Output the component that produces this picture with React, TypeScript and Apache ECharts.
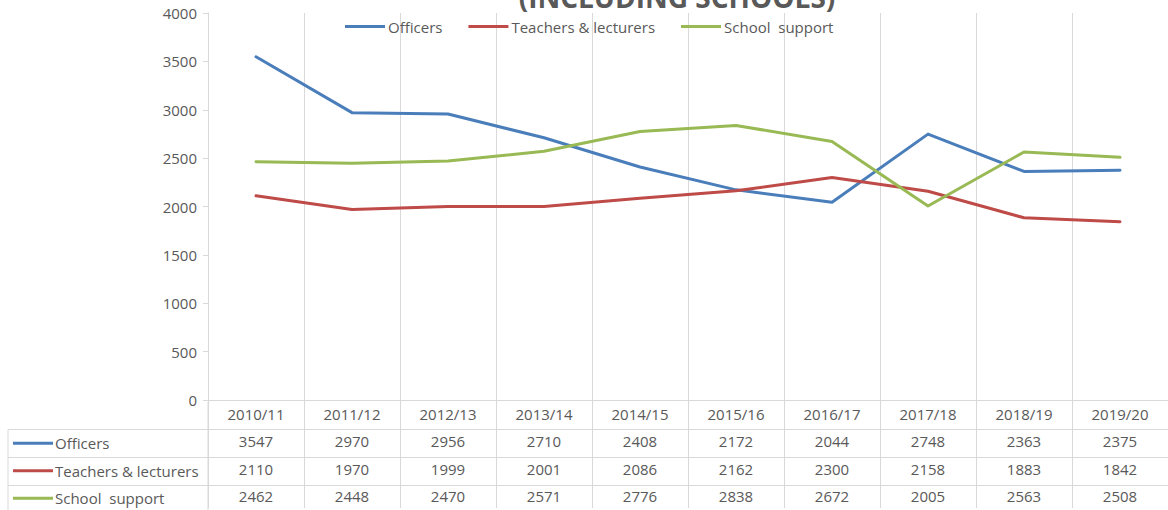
import React, { useEffect, useRef } from "react";
import * as echarts from "echarts";

const categories = ["2010/11", "2011/12", "2012/13", "2013/14", "2014/15", "2015/16", "2016/17", "2017/18", "2018/19", "2019/20"];
const officers = [3547, 2970, 2956, 2710, 2408, 2172, 2044, 2748, 2363, 2375];
const teachers = [2110, 1970, 1999, 2001, 2086, 2162, 2300, 2158, 1883, 1842];
const schoolSupport = [2462, 2448, 2470, 2571, 2776, 2838, 2672, 2005, 2563, 2508];
const seriesNames = ["Officers", "Teachers & lecturers", "School  support"];
const seriesColors = ["#4A7EBB", "#BE4B48", "#98B954"];
const yTicks = { min: 0, max: 4000, interval: 500 };
const titleText = "(INCLUDING SCHOOLS)";

const FONT = "'Open Sans', 'Noto Sans', sans-serif";
const TEXT = "#595959";
const GRID = "#d9d9d9";

export default function App() {
  const ref = useRef<HTMLDivElement>(null);
  useEffect(() => {
    if (!ref.current) return;
    const chart = echarts.init(ref.current, undefined, { renderer: "svg" });
    const allSeries = [officers, teachers, schoolSupport];
    const W = 1168;
    const gridBottomY = 402;
    const rowH = 27.5;
    const graphics: any[] = [
      {
        type: "text",
        x: 677,
        y: -3,
        style: { text: titleText, font: `bold 28px ${FONT}`, fill: TEXT, align: "center", verticalAlign: "middle" },
      },
      { type: "line", shape: { x1: 8, y1: 429.5, x2: 8, y2: 510 }, style: { stroke: GRID, lineWidth: 1 } },
      { type: "line", shape: { x1: 208, y1: 402, x2: 208, y2: 510 }, style: { stroke: GRID, lineWidth: 1 } },
    ];
    [429.5, 457.5, 485.5].forEach((y) => {
      graphics.push({ type: "line", shape: { x1: 8, y1: y, x2: W, y2: y }, style: { stroke: GRID, lineWidth: 1 } });
    });
    seriesNames.forEach((name, i) => {
      const cy = gridBottomY + rowH * (i + 1) + rowH / 2;
      graphics.push({
        type: "line",
        shape: { x1: 13, y1: cy, x2: 53, y2: cy },
        style: { stroke: seriesColors[i], lineWidth: 3 },
      });
      graphics.push({
        type: "text",
        x: 55,
        y: cy,
        style: { text: name, font: `15px ${FONT}`, fill: TEXT, align: "left", verticalAlign: "middle" },
      });
    });

    chart.setOption({
      animation: false,
      backgroundColor: "#ffffff",
      grid: { left: 208, right: 0, top: 13, bottom: 108 },
      legend: {
        left: 340,
        top: 14,
        itemWidth: 40,
        itemHeight: 3,
        itemGap: 26,
        icon: "rect",
        textStyle: { color: TEXT, fontFamily: FONT, fontSize: 15, padding: [0, 0, 0, -2] },
        data: seriesNames,
      },
      xAxis: {
        type: "category",
        data: categories,
        boundaryGap: true,
        axisLine: { show: true, lineStyle: { color: GRID, width: 1 } },
        axisTick: { show: true, length: 108, lineStyle: { color: GRID, width: 1 } },
        splitLine: { show: true, lineStyle: { color: GRID, width: 1 } },
        axisLabel: {
          margin: 0,
          interval: 0,
          color: TEXT,
          fontFamily: FONT,
          fontSize: 15,
          lineHeight: rowH,
          formatter: (v: string, idx: number) =>
            [v, ...allSeries.map((s) => String(s[idx]))].join("\n"),
        },
      },
      yAxis: {
        type: "value",
        min: yTicks.min,
        max: yTicks.max,
        interval: yTicks.interval,
        axisLine: { show: true, lineStyle: { color: GRID, width: 1 } },
        axisTick: { show: true, length: 5, lineStyle: { color: GRID, width: 1 } },
        splitLine: { show: false },
        axisLabel: {
          color: TEXT,
          fontFamily: FONT,
          fontSize: 15,
          margin: 11,
          formatter: (v: number) => String(v),
        },
      },
      series: seriesNames.map((name, i) => ({
        name,
        type: "line",
        data: allSeries[i],
        symbol: "none",
        lineStyle: { color: seriesColors[i], width: 3, cap: "round", join: "round" },
        itemStyle: { color: seriesColors[i] },
      })),
      graphic: graphics,
    });
    return () => chart.dispose();
  }, []);
  return (
    <div
      ref={ref}
      style={{ position: "fixed", left: 0, top: 0, width: 1168, height: 510, background: "#fff" }}
    />
  );
}
